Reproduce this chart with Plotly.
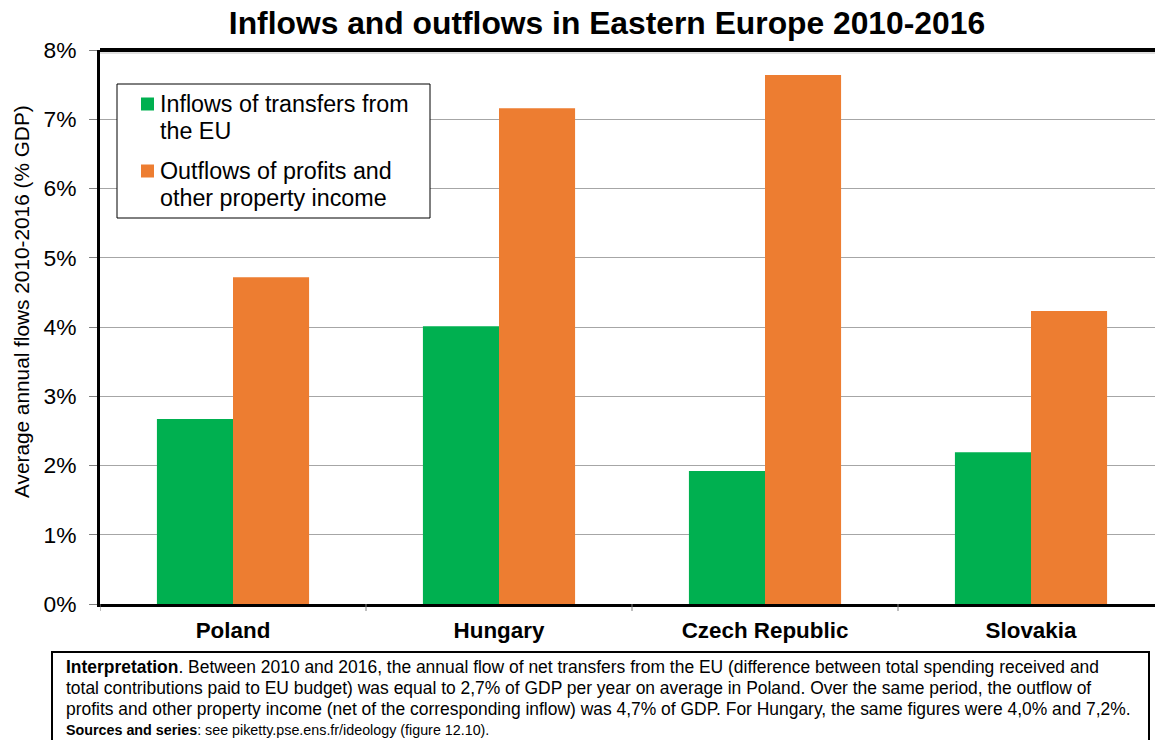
import plotly.graph_objects as go

countries = ["Poland", "Hungary", "Czech Republic", "Slovakia"]
inflows = [2.67, 4.01, 1.92, 2.19]
outflows = [4.72, 7.16, 7.64, 4.23]
series_names = ["Inflows of transfers from the EU", "Outflows of profits and other property income"]
legend_lines = [["Inflows of transfers from", "the EU"], ["Outflows of profits and", "other property income"]]
y_ticks = [0, 1, 2, 3, 4, 5, 6, 7, 8]
y_tick_labels = [f"{v}%" for v in y_ticks]
y_title = "Average annual flows 2010-2016 (% GDP)"
note_lines = [
    "<b>Interpretation</b>. Between 2010 and 2016, the annual flow of net transfers from the EU (difference between total spending received and",
    "total contributions paid to EU budget) was equal to 2,7% of GDP per year on average in Poland. Over the same period, the outflow of",
    "profits and other property income (net of the corresponding inflow) was 4,7% of GDP. For Hungary, the same figures were 4,0% and 7,2%.",
]
source_line = "<b>Sources and series</b>: see piketty.pse.ens.fr/ideology (figure 12.10)."

GREEN = "#00b050"
ORANGE = "#ed7d31"
COLORS = [GREEN, ORANGE]
FONT = "Liberation Sans, Arial, sans-serif"

W, H = 1155, 740
L, T, B = 100, 50, 136
PW = W - L
PH = H - T - B


def px(x):
    return (x - L) / PW


def py(y):
    return (H - B - y) / PH


fig = go.Figure()
fig.add_trace(go.Bar(x=countries, y=inflows, name=series_names[0],
                     marker=dict(color=GREEN, line_width=0), showlegend=False))
fig.add_trace(go.Bar(x=countries, y=outflows, name=series_names[1],
                     marker=dict(color=ORANGE, line_width=0), showlegend=False))

cat_w = 266.0
xr_max = -0.5 + PW / cat_w

fig.update_layout(
    width=W, height=H,
    margin=dict(l=L, r=0, t=T, b=B),
    paper_bgcolor="white", plot_bgcolor="white",
    barmode="group", bargap=0.428, bargroupgap=0,
    font=dict(family=FONT, color="black"),
    title=dict(text="<b>Inflows and outflows in Eastern Europe 2010-2016</b>",
               x=0.5255, xanchor="center", y=1 - 23 / H, yanchor="middle",
               font=dict(size=31.8, family=FONT, color="black")),
    xaxis=dict(range=[-0.5, xr_max], showgrid=False, showline=True, linecolor="black", linewidth=3,
               ticks="", tickfont=dict(size=22.4, family=FONT), ticklabelstandoff=4,
               tickprefix="<b>", ticksuffix="</b>"),
    yaxis=dict(range=[0, 8], tickvals=y_ticks, ticktext=y_tick_labels, showgrid=True,
               gridcolor="#a6a6a6", gridwidth=1, showline=True, linecolor="black", linewidth=3,
               ticks="outside", ticklen=8, tickcolor="#808080", tickfont=dict(size=22.8, family=FONT),
               ticklabelstandoff=8, zeroline=False),
    showlegend=False,
)

# y-axis title (placed as in the reference, slightly above the plot centre)
fig.add_annotation(xref="paper", yref="paper", x=px(21), y=py(302), xanchor="center", yanchor="middle",
                   text=y_title, textangle=-90, showarrow=False,
                   font=dict(size=20.8, family=FONT, color="black"))

# top border of plot area
fig.add_shape(type="line", xref="paper", yref="paper", x0=0, x1=1, y0=1, y1=1,
              line=dict(color="black", width=4))
fig.add_shape(type="line", xref="paper", yref="paper", x0=0, x1=1, y0=py(53), y1=py(53),
              line=dict(color="#c0c0c0", width=1))
# category boundary ticks
for i in range(len(countries) + 1):
    fig.add_shape(type="line", xref="x", yref="paper", x0=i - 0.5, x1=i - 0.5, y0=0, y1=-7 / PH,
                  line=dict(color="#808080", width=1))

# manual legend
fig.add_shape(type="rect", xref="paper", yref="paper", x0=px(117), x1=px(430), y0=py(84), y1=py(218),
              line=dict(color="black", width=1), fillcolor="white", layer="above")
legend_centers = [104, 171]
for k in range(2):
    yc = legend_centers[k]
    fig.add_shape(type="rect", xref="paper", yref="paper", x0=px(141), x1=px(154),
                  y0=py(yc - 6.5), y1=py(yc + 6.5), line=dict(width=0), fillcolor=COLORS[k], layer="above")
    for j, line in enumerate(legend_lines[k]):
        fig.add_annotation(xref="paper", yref="paper", x=px(158), y=py(yc + 27 * j),
                           xanchor="left", yanchor="middle", text=line, showarrow=False,
                           font=dict(size=23.3, family=FONT, color="black"))

# note box
fig.add_shape(type="rect", xref="paper", yref="paper", x0=px(52), x1=px(1149), y0=py(652), y1=py(745),
              line=dict(color="black", width=2), fillcolor="rgba(0,0,0,0)")
for j, line in enumerate(note_lines):
    fig.add_annotation(xref="paper", yref="paper", x=px(64), y=py(667 + 21 * j), xanchor="left",
                       yanchor="middle", text=line, showarrow=False, align="left",
                       font=dict(size=17.45, family=FONT, color="black"))
fig.add_annotation(xref="paper", yref="paper", x=px(64), y=py(730), xanchor="left", yanchor="middle",
                   text=source_line, showarrow=False, align="left",
                   font=dict(size=14.3, family=FONT, color="black"))

fig.write_html("out.html")
